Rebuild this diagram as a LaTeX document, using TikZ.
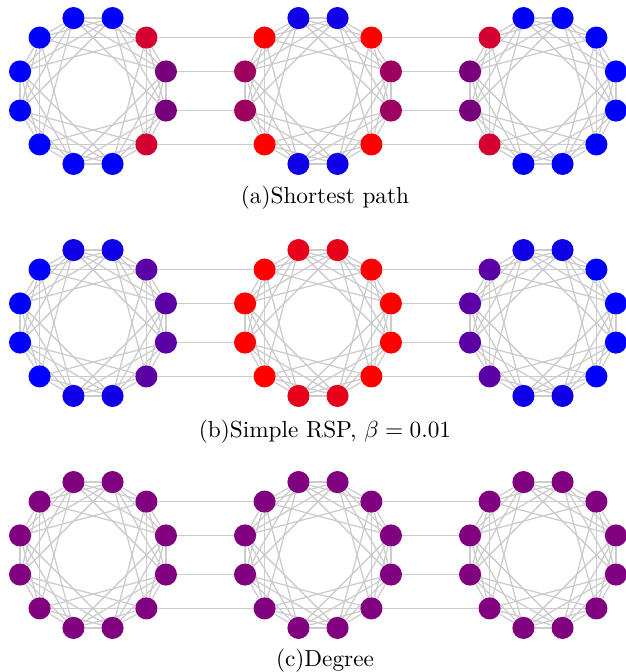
\documentclass[tikz,border=0pt]{standalone}
\usepackage{xcolor}
\usepackage{tikz}
\usetikzlibrary{backgrounds}

\definecolor{spBlue}{RGB}{0,0,255}
\definecolor{spBlueMid}{RGB}{15,0,232}
\definecolor{spCrimson}{RGB}{212,0,50}
\definecolor{spPurple}{RGB}{120,0,125}
\definecolor{spMaroon}{RGB}{158,0,95}
\definecolor{spRed}{RGB}{255,0,0}
\definecolor{rspViolet}{RGB}{90,0,165}
\definecolor{rspRedTop}{RGB}{230,0,25}
\definecolor{degPurple}{RGB}{128,0,128}
\definecolor{linkGray}{RGB}{204,204,204}

% 12 vertices on a circle, each joined to the next four
\newcommand{\ringgraph}[4]{%
  \begin{scope}[shift={(#2,#3)}]
    \foreach \c [count=\k from 0] in {#4}
      \node[vertex, fill=\c] (#1-\k) at ({15+30*\k}:75.5) {};
  \end{scope}
  \begin{pgfonlayer}{background}
    \foreach \k in {0,...,11}
      \foreach \s in {1,...,4} {
        \pgfmathtruncatemacro{\j}{mod(\k+\s,12)}
        \draw[link] (#1-\k) -- (#1-\j);
      }
  \end{pgfonlayer}
}
\newcommand{\bridge}[2]{%
  \begin{pgfonlayer}{background}
    \draw[link] (#1-1) -- (#2-4);
    \draw[link] (#1-0) -- (#2-5);
    \draw[link] (#1-11) -- (#2-6);
    \draw[link] (#1-10) -- (#2-7);
  \end{pgfonlayer}
}

\begin{document}
\begin{tikzpicture}[x=0.43pt, y=0.43pt]
    \tikzstyle{vertex} = [circle, draw=none, inner sep=0pt, minimum size=9.5pt]
    \tikzstyle{link} = [draw=linkGray, line width=0.55pt]
    \tikzstyle{caption} = [font=\normalsize, inner sep=0pt]

    \useasboundingbox (0,0) rectangle (626,672);

    \ringgraph{a1}{93}{581}{spPurple,spCrimson,spBlue,spBlue,spBlue,spBlue,spBlue,spBlue,spBlue,spBlue,spCrimson,spPurple}
    \ringgraph{a2}{318}{581}{spMaroon,spRed,spBlueMid,spBlueMid,spRed,spMaroon,spMaroon,spRed,spBlueMid,spBlueMid,spRed,spMaroon}
    \ringgraph{a3}{543}{581}{spBlue,spBlue,spBlue,spBlue,spCrimson,spPurple,spPurple,spCrimson,spBlue,spBlue,spBlue,spBlue}
    \bridge{a1}{a2}
    \bridge{a2}{a3}
    \node[caption] (capA) at (325,474) {(a)Shortest path};

    \ringgraph{b1}{93}{349}{rspViolet,rspViolet,spBlueMid,spBlueMid,spBlue,spBlue,spBlue,spBlue,spBlueMid,spBlueMid,rspViolet,rspViolet}
    \ringgraph{b2}{318}{349}{spRed,spRed,rspRedTop,rspRedTop,spRed,spRed,spRed,spRed,rspRedTop,rspRedTop,spRed,spRed}
    \ringgraph{b3}{543}{349}{spBlue,spBlue,spBlueMid,spBlueMid,rspViolet,rspViolet,rspViolet,rspViolet,spBlueMid,spBlueMid,spBlue,spBlue}
    \bridge{b1}{b2}
    \bridge{b2}{b3}
    \node[caption] (capB) at (325,240) {(b)Simple RSP, $\beta = 0.01$};

    \ringgraph{c1}{93}{117}{degPurple,degPurple,degPurple,degPurple,degPurple,degPurple,degPurple,degPurple,degPurple,degPurple,degPurple,degPurple}
    \ringgraph{c2}{318}{117}{degPurple,degPurple,degPurple,degPurple,degPurple,degPurple,degPurple,degPurple,degPurple,degPurple,degPurple,degPurple}
    \ringgraph{c3}{543}{117}{degPurple,degPurple,degPurple,degPurple,degPurple,degPurple,degPurple,degPurple,degPurple,degPurple,degPurple,degPurple}
    \bridge{c1}{c2}
    \bridge{c2}{c3}
    \node[caption] (capC) at (325,11) {(c)Degree};
\end{tikzpicture}
\end{document}
